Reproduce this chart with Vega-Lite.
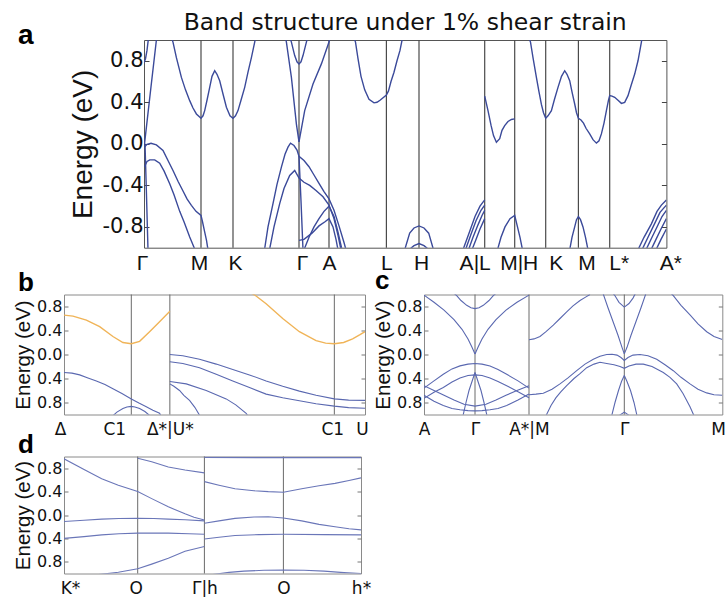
{
  "$schema": "https://vega.github.io/schema/vega-lite/v6.json",
  "padding": {"left": 13, "top": 10, "right": 0, "bottom": 0},
  "background": "white",
  "config": {
    "axis": {"domain": false, "grid": false, "labelColor": "#000", "titleColor": "#000", "titleFontWeight": "normal"},
    "view": {"stroke": "#8a8a8a", "strokeWidth": 1}
  },
  "datasets": {
    "a_k": [{"k": 57}, {"k": 89}, {"k": 155}, {"k": 185}, {"k": 242.4}, {"k": 275}, {"k": 340.7}, {"k": 370.7}, {"k": 401.7}, {"k": 434.4}, {"k": 465.7}],
    "a_c": [
      {"s": "c1", "k": 0.5, "E": 0.0}, {"s": "c1", "k": 7, "E": 0.55}, {"s": "c1", "k": 13, "E": 1.05},
      {"s": "c2", "k": 0, "E": 0.78}, {"s": "c2", "k": 1.5, "E": 0.82}, {"s": "c2", "k": 3, "E": 0.9}, {"s": "c2", "k": 4.5, "E": 1.02},
      {"s": "c3", "k": 27.5, "E": 1.02}, {"s": "c3", "k": 29, "E": 0.98}, {"s": "c3", "k": 32.4, "E": 0.83}, {"s": "c3", "k": 37.4, "E": 0.64}, {"s": "c3", "k": 41.5, "E": 0.52}, {"s": "c3", "k": 45.7, "E": 0.416}, {"s": "c3", "k": 49, "E": 0.345}, {"s": "c3", "k": 52.4, "E": 0.288}, {"s": "c3", "k": 57, "E": 0.246}, {"s": "c3", "k": 59, "E": 0.27}, {"s": "c3", "k": 60.7, "E": 0.32}, {"s": "c3", "k": 63, "E": 0.42}, {"s": "c3", "k": 65.7, "E": 0.544}, {"s": "c3", "k": 68, "E": 0.65}, {"s": "c3", "k": 70.7, "E": 0.704}, {"s": "c3", "k": 73, "E": 0.67}, {"s": "c3", "k": 75.7, "E": 0.608}, {"s": "c3", "k": 79, "E": 0.48}, {"s": "c3", "k": 82.4, "E": 0.352}, {"s": "c3", "k": 86, "E": 0.27}, {"s": "c3", "k": 89, "E": 0.246}, {"s": "c3", "k": 91.5, "E": 0.27}, {"s": "c3", "k": 94, "E": 0.32}, {"s": "c3", "k": 97, "E": 0.42}, {"s": "c3", "k": 100.7, "E": 0.544}, {"s": "c3", "k": 104, "E": 0.69}, {"s": "c3", "k": 107.4, "E": 0.83}, {"s": "c3", "k": 110.7, "E": 0.98}, {"s": "c3", "k": 111.5, "E": 1.02},
      {"s": "c4", "k": 146, "E": 1.02}, {"s": "c4", "k": 147.4, "E": 0.98}, {"s": "c4", "k": 150.7, "E": 0.85}, {"s": "c4", "k": 153, "E": 0.79}, {"s": "c4", "k": 155, "E": 0.77}, {"s": "c4", "k": 157, "E": 0.79}, {"s": "c4", "k": 159, "E": 0.85}, {"s": "c4", "k": 162.4, "E": 0.98}, {"s": "c4", "k": 163.5, "E": 1.02},
      {"s": "c5", "k": 141.5, "E": 1.02}, {"s": "c5", "k": 142.4, "E": 0.98}, {"s": "c5", "k": 147.4, "E": 0.64}, {"s": "c5", "k": 152.4, "E": 0.19}, {"s": "c5", "k": 155, "E": 0.02},
      {"s": "c6", "k": 155, "E": 0.02}, {"s": "c6", "k": 160.7, "E": 0.32}, {"s": "c6", "k": 169, "E": 0.576}, {"s": "c6", "k": 177.4, "E": 0.77}, {"s": "c6", "k": 185, "E": 0.98}, {"s": "c6", "k": 186, "E": 1.02},
      {"s": "c7", "k": 210, "E": 1.02}, {"s": "c7", "k": 211.5, "E": 0.98}, {"s": "c7", "k": 214, "E": 0.82}, {"s": "c7", "k": 217, "E": 0.65}, {"s": "c7", "k": 220.7, "E": 0.52}, {"s": "c7", "k": 225, "E": 0.43}, {"s": "c7", "k": 230, "E": 0.395}, {"s": "c7", "k": 233, "E": 0.4}, {"s": "c7", "k": 236, "E": 0.42}, {"s": "c7", "k": 242.4, "E": 0.47}, {"s": "c7", "k": 244.5, "E": 0.51}, {"s": "c7", "k": 247, "E": 0.6}, {"s": "c7", "k": 250, "E": 0.69}, {"s": "c7", "k": 253, "E": 0.8}, {"s": "c7", "k": 256, "E": 0.9}, {"s": "c7", "k": 258.5, "E": 1.02},
      {"s": "c8", "k": 340.7, "E": 0.46}, {"s": "c8", "k": 344, "E": 0.32}, {"s": "c8", "k": 347, "E": 0.18}, {"s": "c8", "k": 349.5, "E": 0.08}, {"s": "c8", "k": 352.4, "E": 0.016}, {"s": "c8", "k": 355.7, "E": 0.05}, {"s": "c8", "k": 358, "E": 0.13}, {"s": "c8", "k": 360.7, "E": 0.176}, {"s": "c8", "k": 364, "E": 0.215}, {"s": "c8", "k": 367.4, "E": 0.235}, {"s": "c8", "k": 370.7, "E": 0.24},
      {"s": "c9", "k": 385, "E": 1.02}, {"s": "c9", "k": 386.5, "E": 0.98}, {"s": "c9", "k": 389, "E": 0.83}, {"s": "c9", "k": 392.4, "E": 0.64}, {"s": "c9", "k": 395, "E": 0.5}, {"s": "c9", "k": 397.4, "E": 0.38}, {"s": "c9", "k": 399.5, "E": 0.3}, {"s": "c9", "k": 401.7, "E": 0.246}, {"s": "c9", "k": 404, "E": 0.27}, {"s": "c9", "k": 407.4, "E": 0.32}, {"s": "c9", "k": 410.5, "E": 0.43}, {"s": "c9", "k": 414, "E": 0.544}, {"s": "c9", "k": 417.5, "E": 0.65}, {"s": "c9", "k": 420.7, "E": 0.704}, {"s": "c9", "k": 423, "E": 0.67}, {"s": "c9", "k": 425.7, "E": 0.608}, {"s": "c9", "k": 428, "E": 0.5}, {"s": "c9", "k": 430.7, "E": 0.384}, {"s": "c9", "k": 432.5, "E": 0.3}, {"s": "c9", "k": 434.4, "E": 0.246}, {"s": "c9", "k": 437, "E": 0.23}, {"s": "c9", "k": 439.5, "E": 0.2}, {"s": "c9", "k": 442, "E": 0.15}, {"s": "c9", "k": 445.7, "E": 0.096}, {"s": "c9", "k": 449, "E": 0.04}, {"s": "c9", "k": 452.4, "E": 0.007}, {"s": "c9", "k": 455, "E": 0.03}, {"s": "c9", "k": 457.4, "E": 0.096}, {"s": "c9", "k": 460, "E": 0.2}, {"s": "c9", "k": 462.4, "E": 0.32}, {"s": "c9", "k": 464.5, "E": 0.42}, {"s": "c9", "k": 465.7, "E": 0.464}, {"s": "c9", "k": 468, "E": 0.46}, {"s": "c9", "k": 470.7, "E": 0.448}, {"s": "c9", "k": 474, "E": 0.42}, {"s": "c9", "k": 477.4, "E": 0.39}, {"s": "c9", "k": 480.7, "E": 0.4}, {"s": "c9", "k": 484, "E": 0.464}, {"s": "c9", "k": 487, "E": 0.56}, {"s": "c9", "k": 490.7, "E": 0.672}, {"s": "c9", "k": 494, "E": 0.8}, {"s": "c9", "k": 497.4, "E": 0.98}, {"s": "c9", "k": 498, "E": 1.02}
    ],
    "a_v": [
      {"s": "v1", "k": 0.5, "E": -0.03}, {"s": "v1", "k": 3, "E": -0.005}, {"s": "v1", "k": 7, "E": 0.005}, {"s": "v1", "k": 12.4, "E": -0.01}, {"s": "v1", "k": 19, "E": -0.064}, {"s": "v1", "k": 24, "E": -0.16}, {"s": "v1", "k": 29, "E": -0.256}, {"s": "v1", "k": 34, "E": -0.36}, {"s": "v1", "k": 39, "E": -0.454}, {"s": "v1", "k": 43, "E": -0.53}, {"s": "v1", "k": 47.4, "E": -0.592}, {"s": "v1", "k": 52, "E": -0.65}, {"s": "v1", "k": 57, "E": -0.69}, {"s": "v1", "k": 58.5, "E": -0.75}, {"s": "v1", "k": 60.5, "E": -0.84}, {"s": "v1", "k": 62.5, "E": -0.93}, {"s": "v1", "k": 64, "E": -1.02},
      {"s": "v2", "k": 0.5, "E": -0.22}, {"s": "v2", "k": 3, "E": -0.17}, {"s": "v2", "k": 5.7, "E": -0.154}, {"s": "v2", "k": 10.7, "E": -0.154}, {"s": "v2", "k": 15.7, "E": -0.186}, {"s": "v2", "k": 20, "E": -0.26}, {"s": "v2", "k": 25.7, "E": -0.384}, {"s": "v2", "k": 30, "E": -0.49}, {"s": "v2", "k": 35.7, "E": -0.65}, {"s": "v2", "k": 40, "E": -0.75}, {"s": "v2", "k": 45.7, "E": -0.896}, {"s": "v2", "k": 48, "E": -0.95}, {"s": "v2", "k": 51, "E": -1.02},
      {"s": "v3", "k": 1, "E": 0.0}, {"s": "v3", "k": 2.5, "E": -0.5}, {"s": "v3", "k": 4, "E": -1.02},
      {"s": "v4", "k": 120.5, "E": -1.02}, {"s": "v4", "k": 124, "E": -0.8}, {"s": "v4", "k": 129, "E": -0.576}, {"s": "v4", "k": 133, "E": -0.39}, {"s": "v4", "k": 137.4, "E": -0.224}, {"s": "v4", "k": 141, "E": -0.1}, {"s": "v4", "k": 144, "E": -0.032}, {"s": "v4", "k": 146.5, "E": 0.006}, {"s": "v4", "k": 150, "E": -0.016}, {"s": "v4", "k": 153, "E": -0.06}, {"s": "v4", "k": 155, "E": -0.12}, {"s": "v4", "k": 160, "E": -0.16}, {"s": "v4", "k": 165, "E": -0.22}, {"s": "v4", "k": 170, "E": -0.3}, {"s": "v4", "k": 175, "E": -0.38}, {"s": "v4", "k": 180, "E": -0.46}, {"s": "v4", "k": 185, "E": -0.53}, {"s": "v4", "k": 190, "E": -0.64}, {"s": "v4", "k": 195, "E": -0.79}, {"s": "v4", "k": 200, "E": -0.95}, {"s": "v4", "k": 202, "E": -1.02},
      {"s": "v5", "k": 125.5, "E": -1.02}, {"s": "v5", "k": 130, "E": -0.8}, {"s": "v5", "k": 135.7, "E": -0.576}, {"s": "v5", "k": 140, "E": -0.43}, {"s": "v5", "k": 145.7, "E": -0.304}, {"s": "v5", "k": 150.7, "E": -0.256}, {"s": "v5", "k": 155, "E": -0.33}, {"s": "v5", "k": 160, "E": -0.37}, {"s": "v5", "k": 165.7, "E": -0.4}, {"s": "v5", "k": 172, "E": -0.45}, {"s": "v5", "k": 179, "E": -0.51}, {"s": "v5", "k": 185, "E": -0.59}, {"s": "v5", "k": 190, "E": -0.72}, {"s": "v5", "k": 194, "E": -0.88}, {"s": "v5", "k": 197, "E": -1.02},
      {"s": "v6", "k": 155, "E": -0.93}, {"s": "v6", "k": 160, "E": -0.92}, {"s": "v6", "k": 168, "E": -0.86}, {"s": "v6", "k": 175, "E": -0.79}, {"s": "v6", "k": 181, "E": -0.75}, {"s": "v6", "k": 185, "E": -0.72}, {"s": "v6", "k": 189, "E": -0.8}, {"s": "v6", "k": 192, "E": -0.92}, {"s": "v6", "k": 194, "E": -1.02},
      {"s": "v7", "k": 160, "E": -1.02}, {"s": "v7", "k": 165, "E": -0.9}, {"s": "v7", "k": 170, "E": -0.8}, {"s": "v7", "k": 175, "E": -0.72}, {"s": "v7", "k": 180, "E": -0.65}, {"s": "v7", "k": 185, "E": -0.6}, {"s": "v7", "k": 190, "E": -0.7}, {"s": "v7", "k": 194, "E": -0.85}, {"s": "v7", "k": 198, "E": -1.02},
      {"s": "v8", "k": 155, "E": -0.12}, {"s": "v8", "k": 157, "E": -0.55}, {"s": "v8", "k": 159, "E": -1.02},
      {"s": "v9", "k": 260.7, "E": -1.02}, {"s": "v9", "k": 265.7, "E": -0.86}, {"s": "v9", "k": 270, "E": -0.81}, {"s": "v9", "k": 275, "E": -0.79}, {"s": "v9", "k": 280, "E": -0.81}, {"s": "v9", "k": 284.7, "E": -0.86}, {"s": "v9", "k": 289.5, "E": -1.02},
      {"s": "v10", "k": 265, "E": -1.02}, {"s": "v10", "k": 270, "E": -0.98}, {"s": "v10", "k": 275, "E": -0.96}, {"s": "v10", "k": 280, "E": -0.98}, {"s": "v10", "k": 285, "E": -1.02},
      {"s": "v11", "k": 319, "E": -1.02}, {"s": "v11", "k": 325, "E": -0.86}, {"s": "v11", "k": 331, "E": -0.7}, {"s": "v11", "k": 336, "E": -0.6}, {"s": "v11", "k": 340.7, "E": -0.54},
      {"s": "v12", "k": 321.5, "E": -1.02}, {"s": "v12", "k": 327, "E": -0.87}, {"s": "v12", "k": 332, "E": -0.74}, {"s": "v12", "k": 337, "E": -0.64}, {"s": "v12", "k": 340.7, "E": -0.59},
      {"s": "v13", "k": 324.5, "E": -1.02}, {"s": "v13", "k": 329, "E": -0.9}, {"s": "v13", "k": 334, "E": -0.78}, {"s": "v13", "k": 338, "E": -0.69}, {"s": "v13", "k": 340.7, "E": -0.64},
      {"s": "v14", "k": 328, "E": -1.02}, {"s": "v14", "k": 332, "E": -0.92}, {"s": "v14", "k": 336, "E": -0.82}, {"s": "v14", "k": 340.7, "E": -0.72},
      {"s": "v15", "k": 353.5, "E": -1.02}, {"s": "v15", "k": 357, "E": -0.9}, {"s": "v15", "k": 361, "E": -0.8}, {"s": "v15", "k": 366, "E": -0.72}, {"s": "v15", "k": 370.7, "E": -0.69}, {"s": "v15", "k": 373, "E": -0.78}, {"s": "v15", "k": 376, "E": -0.9}, {"s": "v15", "k": 378.5, "E": -1.02},
      {"s": "v16", "k": 425.7, "E": -1.02}, {"s": "v16", "k": 428, "E": -0.9}, {"s": "v16", "k": 430.7, "E": -0.8}, {"s": "v16", "k": 432.5, "E": -0.73}, {"s": "v16", "k": 434.4, "E": -0.7}, {"s": "v16", "k": 436.5, "E": -0.73}, {"s": "v16", "k": 439, "E": -0.8}, {"s": "v16", "k": 441.5, "E": -0.9}, {"s": "v16", "k": 444, "E": -1.02},
      {"s": "v17", "k": 494, "E": -1.02}, {"s": "v17", "k": 500, "E": -0.9}, {"s": "v17", "k": 507.4, "E": -0.77}, {"s": "v17", "k": 513, "E": -0.65}, {"s": "v17", "k": 517.4, "E": -0.59}, {"s": "v17", "k": 522.4, "E": -0.54},
      {"s": "v18", "k": 498, "E": -1.02}, {"s": "v18", "k": 504, "E": -0.9}, {"s": "v18", "k": 510, "E": -0.78}, {"s": "v18", "k": 516, "E": -0.66}, {"s": "v18", "k": 522.4, "E": -0.59},
      {"s": "v19", "k": 502, "E": -1.02}, {"s": "v19", "k": 508, "E": -0.9}, {"s": "v19", "k": 513, "E": -0.8}, {"s": "v19", "k": 518, "E": -0.7}, {"s": "v19", "k": 522.4, "E": -0.64},
      {"s": "v20", "k": 507, "E": -1.02}, {"s": "v20", "k": 512, "E": -0.92}, {"s": "v20", "k": 517, "E": -0.82}, {"s": "v20", "k": 522.4, "E": -0.72},
      {"s": "v21", "k": 512, "E": -1.02}, {"s": "v21", "k": 517, "E": -0.92}, {"s": "v21", "k": 522.4, "E": -0.82}
    ],
    "b_k": [{"k": 67.4}, {"k": 106}, {"k": 270.7}],
    "b_c": [
      {"s": "o1", "k": 0, "E": 0.656}, {"s": "o1", "k": 9, "E": 0.64}, {"s": "o1", "k": 22.4, "E": 0.574}, {"s": "o1", "k": 35.7, "E": 0.464}, {"s": "o1", "k": 49, "E": 0.3}, {"s": "o1", "k": 59, "E": 0.2}, {"s": "o1", "k": 67.4, "E": 0.18}, {"s": "o1", "k": 75.7, "E": 0.22}, {"s": "o1", "k": 85.7, "E": 0.38}, {"s": "o1", "k": 95.7, "E": 0.546}, {"s": "o1", "k": 106, "E": 0.72},
      {"s": "o2", "k": 188, "E": 1.02}, {"s": "o2", "k": 190.7, "E": 0.995}, {"s": "o2", "k": 202.4, "E": 0.847}, {"s": "o2", "k": 219, "E": 0.6}, {"s": "o2", "k": 235.7, "E": 0.38}, {"s": "o2", "k": 252.4, "E": 0.23}, {"s": "o2", "k": 262, "E": 0.19}, {"s": "o2", "k": 270.7, "E": 0.18}, {"s": "o2", "k": 280, "E": 0.2}, {"s": "o2", "k": 289, "E": 0.26}, {"s": "o2", "k": 296.4, "E": 0.33}, {"s": "o2", "k": 301.4, "E": 0.38}
    ],
    "b_v": [
      {"s": "p1", "k": 0, "E": -0.3}, {"s": "p1", "k": 8, "E": -0.31}, {"s": "p1", "k": 15.7, "E": -0.34}, {"s": "p1", "k": 24, "E": -0.39}, {"s": "p1", "k": 32.4, "E": -0.44}, {"s": "p1", "k": 41, "E": -0.5}, {"s": "p1", "k": 49, "E": -0.57}, {"s": "p1", "k": 58, "E": -0.65}, {"s": "p1", "k": 67.4, "E": -0.74}, {"s": "p1", "k": 75, "E": -0.81}, {"s": "p1", "k": 82.4, "E": -0.87}, {"s": "p1", "k": 89, "E": -0.93}, {"s": "p1", "k": 95.7, "E": -0.98}, {"s": "p1", "k": 97, "E": -1.02},
      {"s": "p2", "k": 49, "E": -1.02}, {"s": "p2", "k": 53, "E": -0.96}, {"s": "p2", "k": 59, "E": -0.9}, {"s": "p2", "k": 63, "E": -0.875}, {"s": "p2", "k": 67.4, "E": -0.865}, {"s": "p2", "k": 71, "E": -0.875}, {"s": "p2", "k": 75.7, "E": -0.9}, {"s": "p2", "k": 81, "E": -0.95}, {"s": "p2", "k": 86, "E": -1.02},
      {"s": "p3", "k": 106, "E": 0.0}, {"s": "p3", "k": 119, "E": -0.02}, {"s": "p3", "k": 135.7, "E": -0.08}, {"s": "p3", "k": 152.4, "E": -0.16}, {"s": "p3", "k": 169, "E": -0.25}, {"s": "p3", "k": 185.7, "E": -0.34}, {"s": "p3", "k": 202.4, "E": -0.44}, {"s": "p3", "k": 219, "E": -0.53}, {"s": "p3", "k": 235.7, "E": -0.61}, {"s": "p3", "k": 252.4, "E": -0.68}, {"s": "p3", "k": 270.7, "E": -0.74}, {"s": "p3", "k": 285, "E": -0.76}, {"s": "p3", "k": 301.4, "E": -0.765},
      {"s": "p4", "k": 106, "E": -0.12}, {"s": "p4", "k": 119, "E": -0.15}, {"s": "p4", "k": 135.7, "E": -0.22}, {"s": "p4", "k": 152.4, "E": -0.33}, {"s": "p4", "k": 169, "E": -0.44}, {"s": "p4", "k": 185.7, "E": -0.55}, {"s": "p4", "k": 202.4, "E": -0.66}, {"s": "p4", "k": 219, "E": -0.72}, {"s": "p4", "k": 235.7, "E": -0.77}, {"s": "p4", "k": 252.4, "E": -0.82}, {"s": "p4", "k": 270.7, "E": -0.86}, {"s": "p4", "k": 285, "E": -0.885}, {"s": "p4", "k": 301.4, "E": -0.895},
      {"s": "p5", "k": 106, "E": -0.45}, {"s": "p5", "k": 122.4, "E": -0.49}, {"s": "p5", "k": 142.4, "E": -0.6}, {"s": "p5", "k": 162.4, "E": -0.74}, {"s": "p5", "k": 172, "E": -0.84}, {"s": "p5", "k": 182.4, "E": -0.98}, {"s": "p5", "k": 184, "E": -1.02},
      {"s": "p6", "k": 106, "E": -0.49}, {"s": "p6", "k": 110, "E": -0.53}, {"s": "p6", "k": 115.7, "E": -0.6}, {"s": "p6", "k": 120, "E": -0.68}, {"s": "p6", "k": 125.7, "E": -0.765}, {"s": "p6", "k": 131, "E": -0.88}, {"s": "p6", "k": 136, "E": -1.02}
    ],
    "c_k": [{"k": 51}, {"k": 105}, {"k": 200.3}],
    "c_c": [
      {"s": "q1", "k": 30, "E": 1.02}, {"s": "q1", "k": 32.7, "E": 0.98}, {"s": "q1", "k": 37, "E": 0.9}, {"s": "q1", "k": 42.7, "E": 0.82}, {"s": "q1", "k": 47, "E": 0.78}, {"s": "q1", "k": 51, "E": 0.765}, {"s": "q1", "k": 55, "E": 0.78}, {"s": "q1", "k": 59.3, "E": 0.82}, {"s": "q1", "k": 65, "E": 0.9}, {"s": "q1", "k": 69.3, "E": 0.98}, {"s": "q1", "k": 72, "E": 1.02},
      {"s": "q2", "k": 0, "E": 0.99}, {"s": "q2", "k": 10, "E": 0.87}, {"s": "q2", "k": 20, "E": 0.74}, {"s": "q2", "k": 30, "E": 0.58}, {"s": "q2", "k": 38, "E": 0.42}, {"s": "q2", "k": 44, "E": 0.26}, {"s": "q2", "k": 48, "E": 0.12}, {"s": "q2", "k": 51, "E": 0.01},
      {"s": "q3", "k": 51, "E": 0.01}, {"s": "q3", "k": 54, "E": 0.12}, {"s": "q3", "k": 58, "E": 0.26}, {"s": "q3", "k": 64, "E": 0.42}, {"s": "q3", "k": 72, "E": 0.58}, {"s": "q3", "k": 82, "E": 0.74}, {"s": "q3", "k": 93, "E": 0.87}, {"s": "q3", "k": 105, "E": 0.99},
      {"s": "q4", "k": 105, "E": 0.246}, {"s": "q4", "k": 110, "E": 0.26}, {"s": "q4", "k": 116, "E": 0.3}, {"s": "q4", "k": 122, "E": 0.38}, {"s": "q4", "k": 129.3, "E": 0.49}, {"s": "q4", "k": 136, "E": 0.6}, {"s": "q4", "k": 142.7, "E": 0.71}, {"s": "q4", "k": 149, "E": 0.81}, {"s": "q4", "k": 156, "E": 0.9}, {"s": "q4", "k": 162, "E": 0.96}, {"s": "q4", "k": 166, "E": 1.0},
      {"s": "q5", "k": 179, "E": 1.02}, {"s": "q5", "k": 184, "E": 0.78}, {"s": "q5", "k": 189, "E": 0.55}, {"s": "q5", "k": 194, "E": 0.32}, {"s": "q5", "k": 198, "E": 0.12}, {"s": "q5", "k": 200.3, "E": 0.01},
      {"s": "q6", "k": 200.3, "E": 0.01}, {"s": "q6", "k": 203, "E": 0.12}, {"s": "q6", "k": 207, "E": 0.32}, {"s": "q6", "k": 212, "E": 0.55}, {"s": "q6", "k": 217, "E": 0.78}, {"s": "q6", "k": 222, "E": 1.02},
      {"s": "q7", "k": 189, "E": 1.02}, {"s": "q7", "k": 191, "E": 0.98}, {"s": "q7", "k": 195, "E": 0.87}, {"s": "q7", "k": 200.3, "E": 0.79}, {"s": "q7", "k": 205, "E": 0.85}, {"s": "q7", "k": 209, "E": 0.94}, {"s": "q7", "k": 211.5, "E": 1.02},
      {"s": "q8", "k": 247, "E": 1.02}, {"s": "q8", "k": 249.3, "E": 0.98}, {"s": "q8", "k": 257, "E": 0.82}, {"s": "q8", "k": 266, "E": 0.66}, {"s": "q8", "k": 274, "E": 0.51}, {"s": "q8", "k": 282.7, "E": 0.38}, {"s": "q8", "k": 290, "E": 0.3}, {"s": "q8", "k": 298.3, "E": 0.25}
    ],
    "c_v": [
      {"s": "r1", "k": 0, "E": -0.56}, {"s": "r1", "k": 10, "E": -0.44}, {"s": "r1", "k": 19.3, "E": -0.33}, {"s": "r1", "k": 28, "E": -0.24}, {"s": "r1", "k": 36, "E": -0.19}, {"s": "r1", "k": 44, "E": -0.16}, {"s": "r1", "k": 51, "E": -0.15}, {"s": "r1", "k": 58, "E": -0.16}, {"s": "r1", "k": 66, "E": -0.19}, {"s": "r1", "k": 74, "E": -0.25}, {"s": "r1", "k": 82.7, "E": -0.33}, {"s": "r1", "k": 94, "E": -0.44}, {"s": "r1", "k": 105, "E": -0.56},
      {"s": "r2", "k": 0, "E": -0.73}, {"s": "r2", "k": 10, "E": -0.63}, {"s": "r2", "k": 19.3, "E": -0.55}, {"s": "r2", "k": 28, "E": -0.46}, {"s": "r2", "k": 36, "E": -0.39}, {"s": "r2", "k": 44, "E": -0.35}, {"s": "r2", "k": 51, "E": -0.34}, {"s": "r2", "k": 58, "E": -0.35}, {"s": "r2", "k": 66, "E": -0.39}, {"s": "r2", "k": 74, "E": -0.45}, {"s": "r2", "k": 82.7, "E": -0.52}, {"s": "r2", "k": 94, "E": -0.62}, {"s": "r2", "k": 105, "E": -0.72},
      {"s": "r3", "k": 39, "E": -1.02}, {"s": "r3", "k": 42, "E": -0.8}, {"s": "r3", "k": 45, "E": -0.6}, {"s": "r3", "k": 48, "E": -0.45}, {"s": "r3", "k": 51, "E": -0.3},
      {"s": "r4", "k": 51, "E": -0.3}, {"s": "r4", "k": 54, "E": -0.45}, {"s": "r4", "k": 57, "E": -0.6}, {"s": "r4", "k": 60, "E": -0.8}, {"s": "r4", "k": 63, "E": -1.02},
      {"s": "r5", "k": 0, "E": -0.68}, {"s": "r5", "k": 10, "E": -0.78}, {"s": "r5", "k": 19.3, "E": -0.85}, {"s": "r5", "k": 28, "E": -0.9}, {"s": "r5", "k": 36, "E": -0.92}, {"s": "r5", "k": 44, "E": -0.935}, {"s": "r5", "k": 51, "E": -0.94}, {"s": "r5", "k": 58, "E": -0.935}, {"s": "r5", "k": 66, "E": -0.92}, {"s": "r5", "k": 74, "E": -0.9}, {"s": "r5", "k": 82.7, "E": -0.85}, {"s": "r5", "k": 94, "E": -0.76}, {"s": "r5", "k": 105, "E": -0.66},
      {"s": "r6", "k": 0, "E": -0.52}, {"s": "r6", "k": 10, "E": -0.6}, {"s": "r6", "k": 20, "E": -0.68}, {"s": "r6", "k": 30, "E": -0.76}, {"s": "r6", "k": 40, "E": -0.83}, {"s": "r6", "k": 51, "E": -0.86}, {"s": "r6", "k": 62, "E": -0.83}, {"s": "r6", "k": 72, "E": -0.76}, {"s": "r6", "k": 82, "E": -0.68}, {"s": "r6", "k": 93, "E": -0.6}, {"s": "r6", "k": 105, "E": -0.52},
      {"s": "r7", "k": 105, "E": -0.67}, {"s": "r7", "k": 112, "E": -0.66}, {"s": "r7", "k": 119.3, "E": -0.645}, {"s": "r7", "k": 128, "E": -0.58}, {"s": "r7", "k": 136, "E": -0.49}, {"s": "r7", "k": 144, "E": -0.39}, {"s": "r7", "k": 152.7, "E": -0.27}, {"s": "r7", "k": 161, "E": -0.16}, {"s": "r7", "k": 169.3, "E": -0.08}, {"s": "r7", "k": 176, "E": -0.03}, {"s": "r7", "k": 182.7, "E": 0.0}, {"s": "r7", "k": 188, "E": 0.005}, {"s": "r7", "k": 193, "E": -0.01}, {"s": "r7", "k": 197, "E": -0.05}, {"s": "r7", "k": 200.3, "E": -0.1}, {"s": "r7", "k": 204, "E": -0.05}, {"s": "r7", "k": 209, "E": -0.01}, {"s": "r7", "k": 216, "E": 0.0}, {"s": "r7", "k": 224, "E": -0.02}, {"s": "r7", "k": 232.7, "E": -0.08}, {"s": "r7", "k": 241, "E": -0.17}, {"s": "r7", "k": 249.3, "E": -0.27}, {"s": "r7", "k": 257, "E": -0.38}, {"s": "r7", "k": 266, "E": -0.49}, {"s": "r7", "k": 274, "E": -0.58}, {"s": "r7", "k": 282.7, "E": -0.64}, {"s": "r7", "k": 290, "E": -0.67}, {"s": "r7", "k": 298.3, "E": -0.68},
      {"s": "r8", "k": 122, "E": -1.02}, {"s": "r8", "k": 127, "E": -0.85}, {"s": "r8", "k": 132, "E": -0.72}, {"s": "r8", "k": 137, "E": -0.62}, {"s": "r8", "k": 142.7, "E": -0.52}, {"s": "r8", "k": 150, "E": -0.4}, {"s": "r8", "k": 156, "E": -0.32}, {"s": "r8", "k": 162.7, "E": -0.22}, {"s": "r8", "k": 170, "E": -0.16}, {"s": "r8", "k": 176, "E": -0.13}, {"s": "r8", "k": 182.7, "E": -0.15}, {"s": "r8", "k": 190, "E": -0.17}, {"s": "r8", "k": 196, "E": -0.2}, {"s": "r8", "k": 200.3, "E": -0.23}, {"s": "r8", "k": 205, "E": -0.19}, {"s": "r8", "k": 212, "E": -0.16}, {"s": "r8", "k": 219.3, "E": -0.16}, {"s": "r8", "k": 228, "E": -0.2}, {"s": "r8", "k": 239.3, "E": -0.3}, {"s": "r8", "k": 246, "E": -0.38}, {"s": "r8", "k": 252.7, "E": -0.49}, {"s": "r8", "k": 259, "E": -0.65}, {"s": "r8", "k": 266, "E": -0.87}, {"s": "r8", "k": 270, "E": -1.02},
      {"s": "r9", "k": 187.7, "E": -1.02}, {"s": "r9", "k": 191, "E": -0.8}, {"s": "r9", "k": 194.5, "E": -0.6}, {"s": "r9", "k": 197.5, "E": -0.45}, {"s": "r9", "k": 200.3, "E": -0.35},
      {"s": "r10", "k": 200.3, "E": -0.35}, {"s": "r10", "k": 203, "E": -0.45}, {"s": "r10", "k": 206.5, "E": -0.6}, {"s": "r10", "k": 210, "E": -0.8}, {"s": "r10", "k": 213, "E": -1.02},
      {"s": "r11", "k": 195, "E": -1.02}, {"s": "r11", "k": 200.3, "E": -0.96}, {"s": "r11", "k": 205.5, "E": -1.02}
    ],
    "d_k": [{"k": 73.7}, {"k": 140.4}, {"k": 219.4}],
    "d_c": [
      {"s": "s1", "k": 0, "E": 0.96}, {"s": "s1", "k": 21, "E": 0.77}, {"s": "s1", "k": 37.7, "E": 0.62}, {"s": "s1", "k": 54.3, "E": 0.51}, {"s": "s1", "k": 73.7, "E": 0.4}, {"s": "s1", "k": 87.7, "E": 0.28}, {"s": "s1", "k": 104.3, "E": 0.14}, {"s": "s1", "k": 121, "E": 0.02}, {"s": "s1", "k": 130, "E": -0.04}, {"s": "s1", "k": 140.4, "E": -0.085},
      {"s": "s2", "k": 73.7, "E": 0.97}, {"s": "s2", "k": 87.7, "E": 0.91}, {"s": "s2", "k": 104.3, "E": 0.82}, {"s": "s2", "k": 121, "E": 0.77}, {"s": "s2", "k": 140.4, "E": 0.72},
      {"s": "s3", "k": 140.4, "E": 0.985}, {"s": "s3", "k": 200, "E": 0.98}, {"s": "s3", "k": 297, "E": 0.98},
      {"s": "s4", "k": 140.4, "E": 0.57}, {"s": "s4", "k": 155, "E": 0.51}, {"s": "s4", "k": 171, "E": 0.45}, {"s": "s4", "k": 190, "E": 0.415}, {"s": "s4", "k": 204.3, "E": 0.4}, {"s": "s4", "k": 219.4, "E": 0.39}, {"s": "s4", "k": 237.7, "E": 0.45}, {"s": "s4", "k": 255, "E": 0.5}, {"s": "s4", "k": 271, "E": 0.54}, {"s": "s4", "k": 285, "E": 0.59}, {"s": "s4", "k": 297, "E": 0.635}
    ],
    "d_v": [
      {"s": "t1", "k": 0, "E": -0.11}, {"s": "t1", "k": 20, "E": -0.09}, {"s": "t1", "k": 37.7, "E": -0.07}, {"s": "t1", "k": 55, "E": -0.06}, {"s": "t1", "k": 73.7, "E": -0.057}, {"s": "t1", "k": 90, "E": -0.06}, {"s": "t1", "k": 104.3, "E": -0.07}, {"s": "t1", "k": 121, "E": -0.08}, {"s": "t1", "k": 140.4, "E": -0.1},
      {"s": "t2", "k": 140.4, "E": -0.14}, {"s": "t2", "k": 155, "E": -0.1}, {"s": "t2", "k": 171, "E": -0.057}, {"s": "t2", "k": 190, "E": -0.035}, {"s": "t2", "k": 204.3, "E": -0.03}, {"s": "t2", "k": 219.4, "E": -0.05}, {"s": "t2", "k": 237.7, "E": -0.1}, {"s": "t2", "k": 255, "E": -0.16}, {"s": "t2", "k": 271, "E": -0.2}, {"s": "t2", "k": 285, "E": -0.235}, {"s": "t2", "k": 297, "E": -0.255},
      {"s": "t3", "k": 0, "E": -0.4}, {"s": "t3", "k": 20, "E": -0.37}, {"s": "t3", "k": 37.7, "E": -0.34}, {"s": "t3", "k": 55, "E": -0.32}, {"s": "t3", "k": 73.7, "E": -0.31}, {"s": "t3", "k": 104.3, "E": -0.31}, {"s": "t3", "k": 125, "E": -0.32}, {"s": "t3", "k": 140.4, "E": -0.33},
      {"s": "t4", "k": 140.4, "E": -0.41}, {"s": "t4", "k": 155, "E": -0.38}, {"s": "t4", "k": 171, "E": -0.35}, {"s": "t4", "k": 195, "E": -0.335}, {"s": "t4", "k": 219.4, "E": -0.33}, {"s": "t4", "k": 260, "E": -0.335}, {"s": "t4", "k": 297, "E": -0.34},
      {"s": "t5", "k": 33.7, "E": -1.02}, {"s": "t5", "k": 54.3, "E": -0.98}, {"s": "t5", "k": 73.7, "E": -0.92}, {"s": "t5", "k": 87.7, "E": -0.84}, {"s": "t5", "k": 104.3, "E": -0.74}, {"s": "t5", "k": 121, "E": -0.62}, {"s": "t5", "k": 140.4, "E": -0.54},
      {"s": "t6", "k": 148, "E": -1.02}, {"s": "t6", "k": 165, "E": -0.98}, {"s": "t6", "k": 180, "E": -0.96}, {"s": "t6", "k": 200, "E": -0.945}, {"s": "t6", "k": 219.4, "E": -0.94}, {"s": "t6", "k": 240, "E": -0.945}, {"s": "t6", "k": 260, "E": -0.96}, {"s": "t6", "k": 280, "E": -0.985}, {"s": "t6", "k": 297, "E": -1.0}
    ]
  },
  "spacing": -8.5,
  "bounds": "full",
  "vconcat": [
    {
      "spacing": 0,
      "bounds": "flush",
      "hconcat": [
        {
          "width": 80, "height": 207.7,
          "view": {"stroke": null},
          "data": {"values": []},
          "mark": "point",
          "title": {"text": "a", "anchor": "start", "frame": "group", "font": "Liberation Sans", "fontSize": 28, "fontWeight": "bold", "color": "#000", "baseline": "alphabetic", "offset": -32, "dx": -46}
        },
        {
          "width": 522.4, "height": 207.7,
          "view": {"stroke": "#555", "strokeWidth": 1},
          "title": {"text": "Band structure under 1% shear strain", "anchor": "middle", "frame": "group", "font": "DejaVu Sans", "fontSize": 23.5, "fontWeight": "normal", "color": "#111", "baseline": "alphabetic", "offset": -13.7},
          "resolve": {"axis": {"y": "independent"}},
          "layer": [
            {
              "data": {"name": "a_k"},
              "mark": {"type": "rule", "color": "#4a4a4a", "strokeWidth": 1.2},
              "encoding": {
                "x": {"field": "k", "type": "quantitative", "scale": {"domain": [0, 522.4], "nice": false, "zero": false},
                  "axis": {"title": null, "ticks": false, "values": [0, 57, 89, 155, 185, 242.4, 275, 340.7, 370.7, 401.7, 434.4, 465.7, 522.4],
                    "labelExpr": "['Γ','M','K','Γ','A','L','H','A|L','M|H','K','M','L*','A*'][indexof([0, 57, 89, 155, 185, 242.4, 275, 340.7, 370.7, 401.7, 434.4, 465.7, 522.4], datum.value)]",
                    "labelFont": "Liberation Sans", "labelFontSize": 21, "labelPadding": 5, "labelFlush": false, "labelOverlap": false, "labelColor": "#111",
                    "labelOffset": {"condition": [
                      {"test": "datum.value == 0", "value": -2},
                      {"test": "datum.value == 57", "value": -2},
                      {"test": "datum.value == 89", "value": 2},
                      {"test": "datum.value == 155", "value": 3},
                      {"test": "datum.value == 275", "value": 2},
                      {"test": "datum.value == 340.7", "value": -10},
                      {"test": "datum.value == 370.7", "value": 4},
                      {"test": "datum.value == 401.7", "value": 10},
                      {"test": "datum.value == 434.4", "value": 8},
                      {"test": "datum.value == 465.7", "value": 9},
                      {"test": "datum.value == 522.4", "value": 4}
                    ], "value": 0}}}
              }
            },
            {
              "data": {"name": "a_c"},
              "mark": {"type": "line", "color": "#3b4a9a", "strokeWidth": 1.4, "clip": true},
              "encoding": {
                "x": {"field": "k", "type": "quantitative", "scale": {"domain": [0, 522.4], "nice": false, "zero": false}},
                "y": {"field": "E", "type": "quantitative", "scale": {"domain": [-1, 1], "nice": false, "zero": false},
                  "axis": {"orient": "left", "values": [-0.8, -0.4, 0, 0.4, 0.8], "labelExpr": "(datum.value < 0 ? '-' : '') + format(abs(datum.value), '.1f')",
                    "labelFont": "DejaVu Sans", "labelFontSize": 21, "tickSize": -5, "tickColor": "#444", "labelPadding": 6, "labelColor": "#111",
                    "title": "Energy (eV)", "titleFont": "Liberation Sans", "titleFontSize": 28, "titlePadding": 5, "titleColor": "#111"}},
                "detail": {"field": "s"}
              }
            },
            {
              "data": {"name": "a_v"},
              "mark": {"type": "line", "color": "#3b4a9a", "strokeWidth": 1.4, "clip": true},
              "encoding": {
                "x": {"field": "k", "type": "quantitative", "scale": {"domain": [0, 522.4], "nice": false, "zero": false}},
                "y": {"field": "E", "type": "quantitative", "scale": {"domain": [-1, 1], "nice": false, "zero": false},
                  "axis": {"orient": "right", "values": [-0.8, -0.4, 0, 0.4, 0.8], "labels": false, "tickSize": -5, "tickColor": "#444", "title": null}},
                "detail": {"field": "s"}
              }
            }
          ]
        }
      ]
    },
    {
      "spacing": -7,
      "bounds": "full",
      "vconcat": [
        {
          "spacing": 59,
          "bounds": "flush",
          "hconcat": [
            {
              "width": 301, "height": 120,
              "title": {"text": "b", "anchor": "start", "frame": "group", "font": "Liberation Sans", "fontSize": 26, "fontWeight": "bold", "color": "#000", "baseline": "alphabetic", "offset": -23.4, "dx": -46},
              "resolve": {"axis": {"y": "independent"}},
              "layer": [
                {
                  "data": {"name": "b_k"},
                  "mark": {"type": "rule", "color": "#6a6a6a", "strokeWidth": 1},
                  "encoding": {
                    "x": {"field": "k", "type": "quantitative", "scale": {"domain": [0, 301.4], "nice": false, "zero": false},
                      "axis": {"title": null, "ticks": false, "values": [0, 67.4, 106, 270.7, 301.4],
                        "labelExpr": "['Δ','C1','Δ*|U*','C1','U'][indexof([0, 67.4, 106, 270.7, 301.4], datum.value)]",
                        "labelFont": "DejaVu Sans", "labelFontSize": 17, "labelPadding": 7, "labelFlush": false, "labelOverlap": false, "labelColor": "#111",
                        "labelOffset": {"condition": [
                          {"test": "datum.value == 0", "value": -4},
                          {"test": "datum.value == 67.4", "value": -17},
                          {"test": "datum.value == 270.7", "value": -2},
                          {"test": "datum.value == 301.4", "value": -3}
                        ], "value": 0}}}
                  }
                },
                {
                  "data": {"name": "b_v"},
                  "mark": {"type": "line", "color": "#5a68b0", "strokeWidth": 1.1, "clip": true},
                  "encoding": {
                    "x": {"field": "k", "type": "quantitative", "scale": {"domain": [0, 301.4], "nice": false, "zero": false}},
                    "y": {"field": "E", "type": "quantitative", "scale": {"domain": [-1, 1], "nice": false, "zero": false},
                      "axis": {"orient": "left", "values": [-0.8, -0.4, 0, 0.4, 0.8], "labelExpr": "format(abs(datum.value), '.1f')",
                        "labelFont": "DejaVu Sans", "labelFontSize": 16, "tickSize": -4, "tickColor": "#777", "labelPadding": 6, "labelColor": "#111",
                        "title": "Energy (eV)", "titleFont": "Liberation Sans", "titleFontSize": 20.5, "titlePadding": 3, "titleColor": "#111"}},
                    "detail": {"field": "s"}
                  }
                },
                {
                  "data": {"name": "b_c"},
                  "mark": {"type": "line", "color": "#f0b458", "strokeWidth": 1.4, "clip": true},
                  "encoding": {
                    "x": {"field": "k", "type": "quantitative", "scale": {"domain": [0, 301.4], "nice": false, "zero": false}},
                    "y": {"field": "E", "type": "quantitative", "scale": {"domain": [-1, 1], "nice": false, "zero": false},
                      "axis": {"orient": "right", "values": [-0.8, -0.4, 0, 0.4, 0.8], "labels": false, "tickSize": -4, "tickColor": "#777", "title": null}},
                    "detail": {"field": "s"}
                  }
                }
              ]
            },
            {
              "width": 298.3, "height": 120,
              "title": {"text": "c", "anchor": "start", "frame": "group", "font": "Liberation Sans", "fontSize": 26, "fontWeight": "bold", "color": "#000", "baseline": "alphabetic", "offset": -20.7, "dx": -49},
              "resolve": {"axis": {"y": "independent"}},
              "layer": [
                {
                  "data": {"name": "c_k"},
                  "mark": {"type": "rule", "color": "#6a6a6a", "strokeWidth": 1},
                  "encoding": {
                    "x": {"field": "k", "type": "quantitative", "scale": {"domain": [0, 298.3], "nice": false, "zero": false},
                      "axis": {"title": null, "ticks": false, "values": [0, 51, 105, 200.3, 298.3],
                        "labelExpr": "['A','Γ','A*|M','Γ','M*'][indexof([0, 51, 105, 200.3, 298.3], datum.value)]",
                        "labelFont": "DejaVu Sans", "labelFontSize": 17, "labelPadding": 7, "labelFlush": false, "labelOverlap": false, "labelColor": "#111"}}
                  }
                },
                {
                  "data": {"name": "c_c"},
                  "mark": {"type": "line", "color": "#5a68b0", "strokeWidth": 1.1, "clip": true},
                  "encoding": {
                    "x": {"field": "k", "type": "quantitative", "scale": {"domain": [0, 298.3], "nice": false, "zero": false}},
                    "y": {"field": "E", "type": "quantitative", "scale": {"domain": [-1, 1], "nice": false, "zero": false},
                      "axis": {"orient": "left", "values": [-0.8, -0.4, 0, 0.4, 0.8], "labelExpr": "format(abs(datum.value), '.1f')",
                        "labelFont": "DejaVu Sans", "labelFontSize": 16, "tickSize": -4, "tickColor": "#777", "labelPadding": 6, "labelColor": "#111",
                        "title": "Energy (eV)", "titleFont": "Liberation Sans", "titleFontSize": 20.5, "titlePadding": 3, "titleColor": "#111"}},
                    "detail": {"field": "s"}
                  }
                },
                {
                  "data": {"name": "c_v"},
                  "mark": {"type": "line", "color": "#5a68b0", "strokeWidth": 1.1, "clip": true},
                  "encoding": {
                    "x": {"field": "k", "type": "quantitative", "scale": {"domain": [0, 298.3], "nice": false, "zero": false}},
                    "y": {"field": "E", "type": "quantitative", "scale": {"domain": [-1, 1], "nice": false, "zero": false},
                      "axis": {"orient": "right", "values": [-0.8, -0.4, 0, 0.4, 0.8], "labels": false, "tickSize": -4, "tickColor": "#777", "title": null}},
                    "detail": {"field": "s"}
                  }
                }
              ]
            }
          ]
        },
        {
          "width": 297, "height": 117,
          "title": {"text": "d", "anchor": "start", "frame": "group", "font": "Liberation Sans", "fontSize": 26, "fontWeight": "bold", "color": "#000", "baseline": "alphabetic", "offset": -23.2, "dx": -46},
          "resolve": {"axis": {"y": "independent"}},
          "layer": [
            {
              "data": {"name": "d_k"},
              "mark": {"type": "rule", "color": "#6a6a6a", "strokeWidth": 1},
              "encoding": {
                "x": {"field": "k", "type": "quantitative", "scale": {"domain": [0, 297], "nice": false, "zero": false},
                  "axis": {"title": null, "ticks": false, "values": [0, 73.7, 140.4, 219.4, 297],
                    "labelExpr": "['K*','O','Γ|h','O','h*'][indexof([0, 73.7, 140.4, 219.4, 297], datum.value)]",
                    "labelFont": "DejaVu Sans", "labelFontSize": 17, "labelPadding": 7, "labelFlush": false, "labelOverlap": false, "labelColor": "#111",
                    "labelOffset": {"condition": [
                      {"test": "datum.value == 0", "value": 6},
                      {"test": "datum.value == 73.7", "value": -2}
                    ], "value": 0}}}
              }
            },
            {
              "data": {"name": "d_c"},
              "mark": {"type": "line", "color": "#6a76b8", "strokeWidth": 1.1, "clip": true},
              "encoding": {
                "x": {"field": "k", "type": "quantitative", "scale": {"domain": [0, 297], "nice": false, "zero": false}},
                "y": {"field": "E", "type": "quantitative", "scale": {"domain": [-1, 1], "nice": false, "zero": false},
                  "axis": {"orient": "left", "values": [-0.8, -0.4, 0, 0.4, 0.8], "labelExpr": "format(abs(datum.value), '.1f')",
                    "labelFont": "DejaVu Sans", "labelFontSize": 16, "tickSize": -4, "tickColor": "#777", "labelPadding": 6, "labelColor": "#111",
                    "title": "Energy (eV)", "titleFont": "Liberation Sans", "titleFontSize": 20.5, "titlePadding": 3, "titleColor": "#111"}},
                "detail": {"field": "s"}
              }
            },
            {
              "data": {"name": "d_v"},
              "mark": {"type": "line", "color": "#6a76b8", "strokeWidth": 1.1, "clip": true},
              "encoding": {
                "x": {"field": "k", "type": "quantitative", "scale": {"domain": [0, 297], "nice": false, "zero": false}},
                "y": {"field": "E", "type": "quantitative", "scale": {"domain": [-1, 1], "nice": false, "zero": false},
                  "axis": {"orient": "right", "values": [-0.8, -0.4, 0, 0.4, 0.8], "labels": false, "tickSize": -4, "tickColor": "#777", "title": null}},
                "detail": {"field": "s"}
              }
            }
          ]
        }
      ]
    }
  ]
}
